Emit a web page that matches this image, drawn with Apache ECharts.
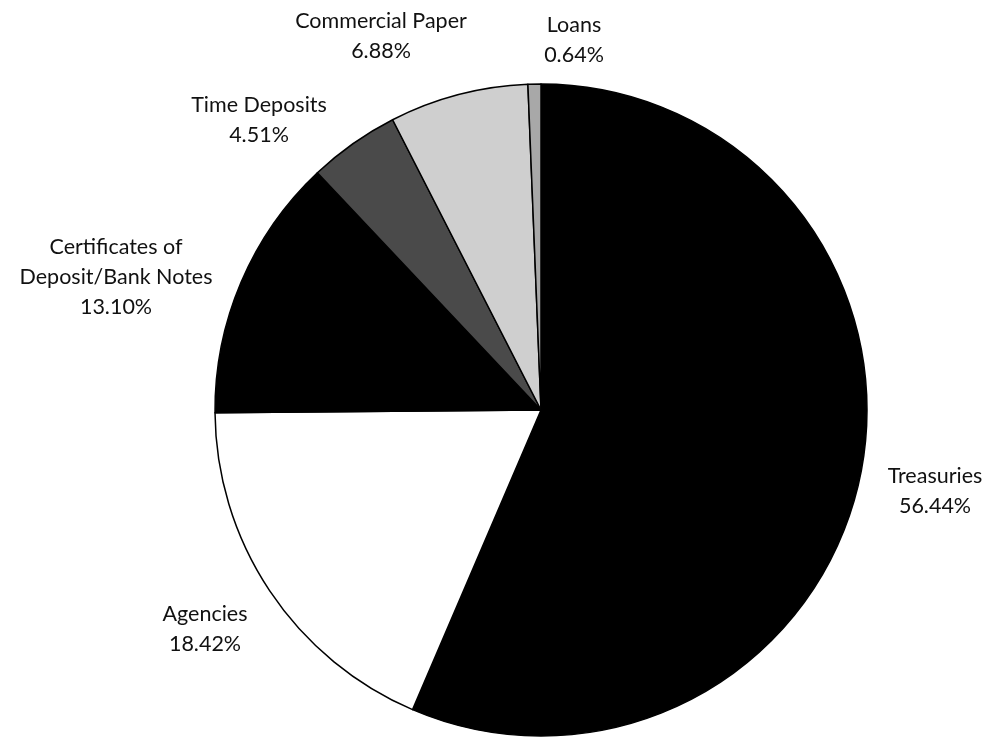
<!DOCTYPE html>
<html>
<head>
<meta charset="utf-8">
<script src="https://cdn.jsdelivr.net/npm/echarts@6/dist/echarts.min.js"></script>
<style>html,body{margin:0;padding:0;background:#fff}#c{width:998px;height:744px}</style>
</head>
<body>
<div id="c"></div>
<script>
const categories = ['Treasuries', 'Agencies', 'Certificates of\nDeposit/Bank Notes', 'Time Deposits', 'Commercial Paper', 'Loans'];
const values = [56.44, 18.42, 13.10, 4.51, 6.88, 0.64];
const colors = ['#000000', '#ffffff', '#000000', '#4a4a4a', '#cfcfcf', '#a8a8a8'];
// label anchor points (label placement only)
const labelPos = [[935, 491], [205, 629], [116, 277], [259, 120], [381, 36], [574, 40]];

const chart = echarts.init(document.getElementById('c'), null, {renderer: 'canvas'});
chart.setOption({
  animation: false,
  backgroundColor: '#fff',
  series: [{
    type: 'pie',
    center: [541, 410],
    radius: 326,
    startAngle: 90,
    clockwise: true,
    avoidLabelOverlap: false,
    data: values.map((v, i) => ({name: categories[i], value: v, itemStyle: {color: colors[i]}})),
    itemStyle: {borderColor: '#000', borderWidth: 1.5},
    emphasis: {disabled: true},
    label: {
      show: true,
      position: 'outside',
      formatter: p => p.name + '\n' + p.value.toFixed(2) + '%',
      fontFamily: 'Lato',
      fontSize: 21.5,
      lineHeight: 30,
      color: '#111',
      align: 'center'
    },
    labelLine: {show: false},
    labelLayout: function (params) {
      const p = labelPos[params.dataIndex];
      return {x: p[0], y: p[1], align: 'center', verticalAlign: 'middle'};
    }
  }]
});
</script>
</body>
</html>
